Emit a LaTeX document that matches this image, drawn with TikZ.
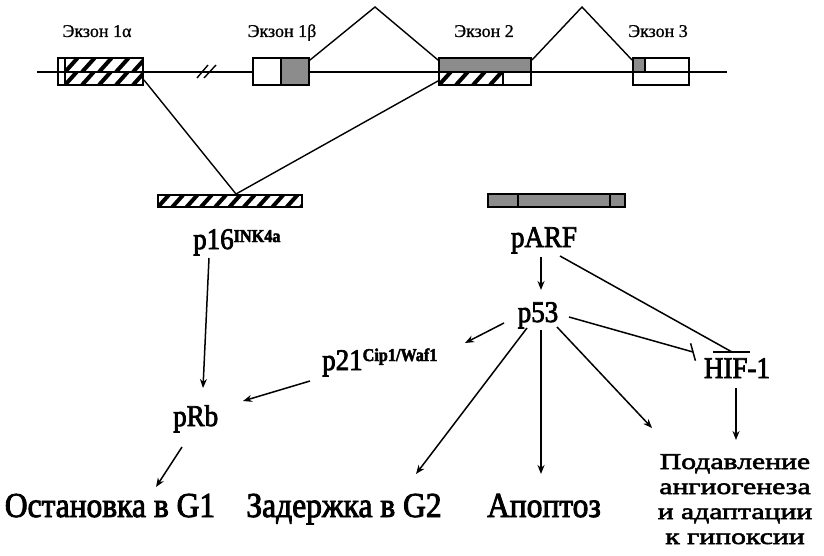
\documentclass[tikz,border=0pt]{standalone}
\usepackage{fontspec}
\setmainfont{Liberation Serif}[FakeStretch=0.9,FakeBold=2.5]
\newfontfamily\stackfont{Liberation Serif}[FakeStretch=1.32,FakeBold=2.5]
\newfontfamily\exonfont{Liberation Serif}[FakeBold=0.8]
\usetikzlibrary{arrows.meta,calc}
\definecolor{exgray}{RGB}{140,140,140}

\newcommand{\hatchrect}[5]{%
  \begin{scope}
    \clip (#1,#2) rectangle (#3,#4);
    \foreach \i in {0,...,30}{
      \pgfmathsetmacro\xa{#1-#5+\i*#5}
      \pgfmathsetmacro\xb{\xa+0.9*(#4-#2)}
      \draw[line width=4pt] (\xa,#4) -- (\xb,#2);
    }
  \end{scope}}

\begin{document}
\begin{tikzpicture}[x=1pt,y=-1pt,
  exbox/.style={draw,line width=1.8pt,inner sep=0pt,rectangle},
  lbl/.style={font=\fontsize{30}{30}\selectfont,inner sep=0pt},
  big/.style={font=\fontsize{35}{35}\selectfont,inner sep=0pt},
  stk/.style={font=\stackfont\fontsize{22.5}{22.5}\selectfont,inner sep=0pt,anchor=base},
  exlbl/.style={font=\exonfont\fontsize{18}{18}\selectfont,inner sep=0pt},
  arr/.style={line width=1.5pt,-{Stealth[length=9pt,width=7pt]}},
  inh/.style={line width=1.5pt},
  splice/.style={line width=1.4pt}]
\useasboundingbox (0,0) rectangle (824,556);
\fill[white] (0,0) rectangle (824,556);

% ---- fills of exons ----
\hatchrect{65}{58}{143}{72}{17}
\hatchrect{65}{72}{143}{85}{17}
\fill[exgray] (281,58) rectangle (309,85);
\fill[exgray] (439,58) rectangle (531,72);
\hatchrect{439}{72}{503}{85}{17}
\fill[exgray] (633,58) rectangle (645,72);

% ---- gene line ----
\draw[line width=2.6pt] (37,72) -- (253,72);
\draw[line width=2.6pt] (309,72) -- (727,72);
\draw[line width=1.4pt] (197,78) -- (208,65);
\draw[line width=1.4pt] (204,78) -- (216,65);

% ---- exon outlines ----
\node[exbox,minimum width=85pt,minimum height=27pt] (e1a) at (100.5,71.5) {};
\draw[line width=1.4pt] (65,58) -- (65,85);
\node[exbox,minimum width=56pt,minimum height=27pt] (e1b) at (281,71.5) {};
\draw[line width=1.8pt] (281,58) -- (281,85);
\node[exbox,minimum width=92pt,minimum height=27pt] (e2) at (485,71.5) {};
\draw[line width=1.4pt] (503,72) -- (503,85);
\node[exbox,minimum width=56pt,minimum height=27pt] (e3) at (661,71.5) {};
\draw[line width=1.4pt] (645,58) -- (645,72);

% ---- exon labels ----
\node[exlbl,anchor=base] (l1a) at (97,37) {Экзон 1α};
\node[exlbl,anchor=base] (l1b) at (282,37) {Экзон 1β};
\node[exlbl,anchor=base] (l2) at (484,37) {Экзон 2};
\node[exlbl,anchor=base] (l3) at (658,37) {Экзон 3};

% ---- protein bars ----
\fill[white] (158,195) rectangle (302,207);
\hatchrect{158}{195}{302}{207}{14.3}
\node[exbox,minimum width=144pt,minimum height=12pt] (p16bar) at (230,201) {};
\fill[exgray] (488,194) rectangle (625,207);
\node[exbox,minimum width=137pt,minimum height=13pt] (parfbar) at (556.5,200.5) {};
\draw[line width=1.8pt] (518,194) -- (518,207);
\draw[line width=1.8pt] (610,194) -- (610,207);

% ---- splicing ----
\coordinate (pk1) at (375,7);
\coordinate (pk2) at (582,7);
\coordinate (join) at (236,194);
\draw[splice] ($(e1b.north east)+(0,3)$) -- (pk1) -- ($(e2.north west)+(0,3)$);
\draw[splice] ($(e2.north east)+(0,3)$) -- (pk2) -- ($(e3.north west)+(0,3)$);
\draw[splice] ($(e1a.south east)+(0,-6)$) -- (join);
\draw[splice] ($(e2.south west)+(0,-5)$) -- (join);

% ---- protein labels ----
\node[lbl,anchor=base west] (p16) at (193,249) {p16\raisebox{7pt}{\fontsize{18}{18}\selectfont\bfseries INK4a}};
\node[lbl,anchor=base] (parf) at (544,247) {pARF};
\node[lbl,anchor=base] (p53) at (538,322) {p53};
\node[lbl,anchor=base west] (p21) at (322,370) {p21\raisebox{9pt}{\fontsize{18}{18}\selectfont\bfseries Cip1/Waf1}};
\node[lbl,anchor=base west] (prb) at (173,426) {pRb};
\node[lbl,anchor=base] (hif) at (737,378) {HIF-1};

% ---- outcome labels ----
\node[big,anchor=base] (g1) at (110,517) {Остановка в G1};
\node[big,anchor=base] (g2) at (344,517) {Задержка в G2};
\node[big,anchor=base] (apo) at (544,517) {Апоптоз};
\node[stk] (supp1) at (735,469) {Подавление};
\node[stk] (supp2) at (735,494) {ангиогенеза};
\node[stk] (supp3) at (735,519) {и адаптации};
\node[stk] (supp4) at (735,544) {к гипоксии};

% ---- connector end points ----
\coordinate (parf-s) at (541,257);
\coordinate (p53-n) at (541,290);
\coordinate (parf-e) at (560,256);
\coordinate (hif-top) at (732,352);
\coordinate (p53-e) at (569,317);
\coordinate (hif-w) at (693,352);
\coordinate (p53-w) at (504,323);
\coordinate (p21-e) at (465,343);
\coordinate (p21-w) at (310,381);
\coordinate (prb-e) at (243,401);
\coordinate (p16-s) at (209,258);
\coordinate (prb-n) at (203,388);
\coordinate (prb-s) at (182,447);
\coordinate (g1-n) at (156,487);
\coordinate (p53-sw) at (527,328);
\coordinate (g2-n) at (416,474);
\coordinate (p53-s) at (541,330);
\coordinate (apo-n) at (541,474);
\coordinate (p53-se) at (557,327);
\coordinate (supp-nw) at (652,428);
\coordinate (hif-s) at (736,388);
\coordinate (supp-n) at (736,440);

% ---- connectors ----
\draw[arr] (parf-s) -- (p53-n);
\draw[inh] (parf-e) -- (hif-top);
\draw[inh] (713,352) -- (750,352);
\draw[inh] (p53-e) -- (hif-w);
\draw[inh] ($(hif-w)+(-2.4,-8.7)$) -- ($(hif-w)+(2.4,8.7)$);
\draw[arr] (p53-w) -- (p21-e);
\draw[arr] (p21-w) -- (prb-e);
\draw[arr] (p16-s) -- (prb-n);
\draw[arr] (prb-s) -- (g1-n);
\draw[arr] (p53-sw) -- (g2-n);
\draw[arr] (p53-s) -- (apo-n);
\draw[arr] (p53-se) -- (supp-nw);
\draw[arr] (hif-s) -- (supp-n);
\end{tikzpicture}
\end{document}
